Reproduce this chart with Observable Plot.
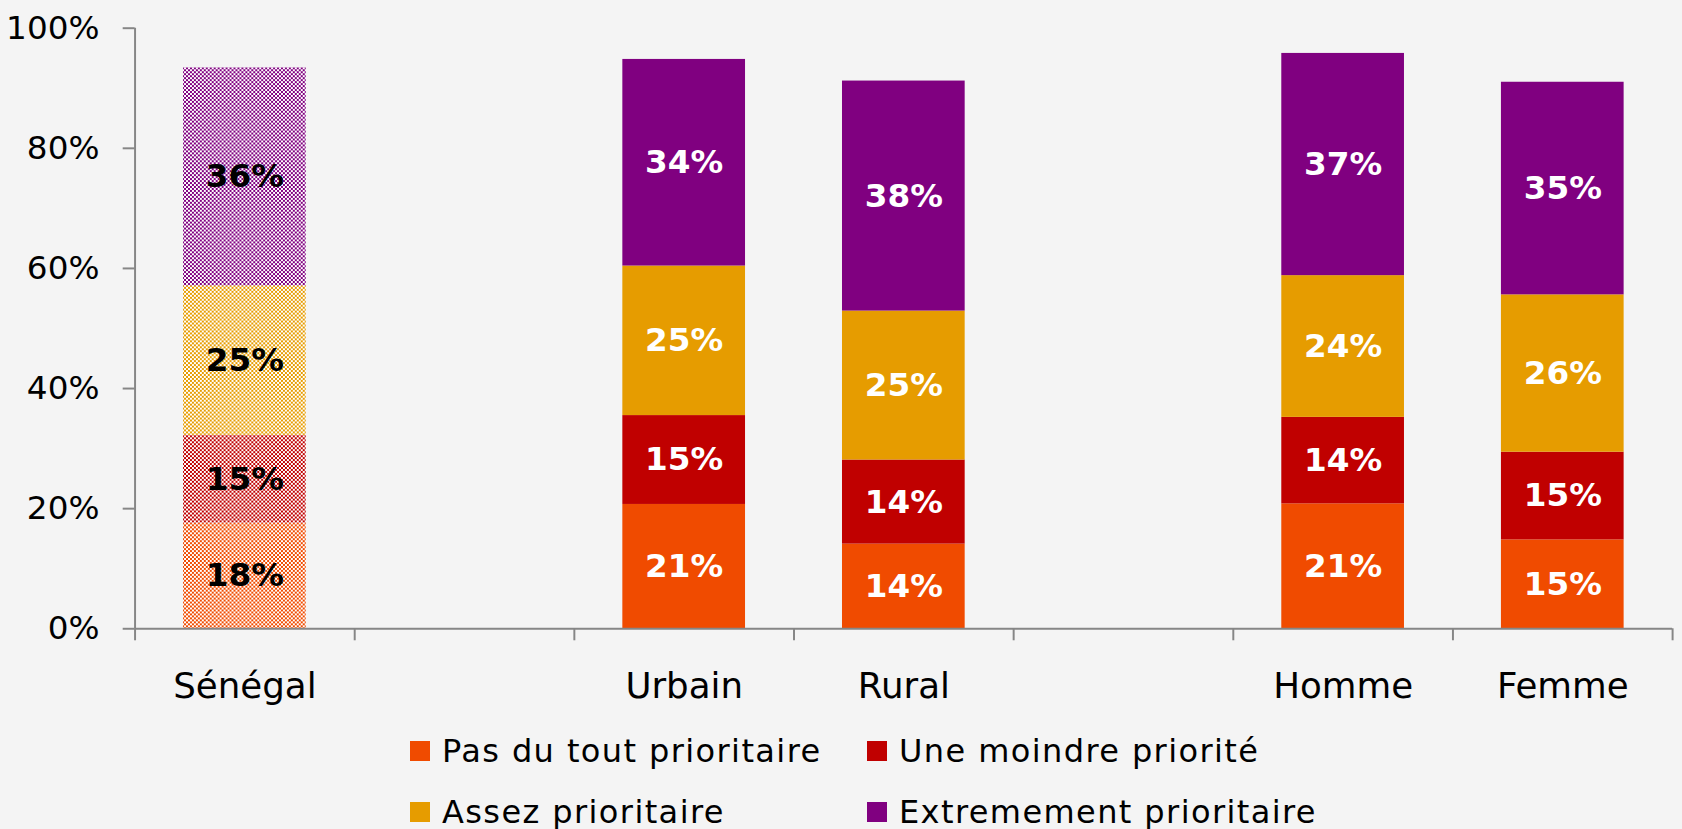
<!DOCTYPE html>
<html><head><meta charset="utf-8">
<script src="https://cdn.jsdelivr.net/npm/d3@7"></script>
<script src="https://cdn.jsdelivr.net/npm/@observablehq/plot@0.6"></script>
<style>
html,body{margin:0;padding:0;background:#f4f4f4;overflow:hidden;width:1682px;height:829px;}
#chart{position:absolute;left:0;top:0;}
.legend{position:absolute;left:410px;top:720px;display:grid;grid-template-columns:457px auto;font-family:"DejaVu Sans";font-size:32px;letter-spacing:1.4px;color:#000;}
.item{display:flex;align-items:center;height:61px;white-space:nowrap;}
.sw{width:20px;height:20px;margin-right:12px;flex:none;}
</style></head><body><div id="chart"></div><div class="legend" id="legend"></div>
<script>
// Categories on the x axis (two empty spacer slots)
const categories = ["Sénégal", "gap1", "Urbain", "Rural", "gap2", "Homme", "Femme"];
const tickLabels = ["Sénégal", "", "Urbain", "Rural", "", "Homme", "Femme"];
const groups = ["Sénégal", "Urbain", "Rural", "Homme", "Femme"];
const hatchedGroup = "Sénégal";

// Series
const levels = ["Pas du tout prioritaire", "Une moindre priorité", "Assez prioritaire", "Extremement prioritaire"];
const colors = ["#F04B00", "#C00000", "#E69C00", "#800080"];
const pasDuTout = [17.6, 20.7, 14.1, 20.8, 14.8];
const moindre   = [14.6, 14.8, 14.0, 14.4, 14.6];
const assez     = [24.9, 24.9, 24.8, 23.6, 26.2];
const extreme   = [36.3, 34.4, 38.3, 37.0, 35.4];
const yTicks = [0, 20, 40, 60, 80, 100];

const series = [pasDuTout, moindre, assez, extreme];
const data = [];
groups.forEach((g, i) => {
  series.forEach((s, j) => data.push({group: g, level: levels[j], li: j, value: s[i]}));
});
const plain = data.filter(d => d.group !== hatchedGroup);
const hatched = data.filter(d => d.group === hatchedGroup);

const W = 1700, H = 720, ML = 136, MR = 10, MT = 28, MB = 85;
const step = (W - ML - MR) / categories.length;
const axisColor = "#868686";
const font = "DejaVu Sans";

const chart = Plot.plot({
  width: W, height: H,
  marginLeft: ML, marginRight: MR, marginTop: MT, marginBottom: MB,
  style: {background: "transparent", fontFamily: font, color: "#000", overflow: "visible"},
  x: {domain: categories, paddingInner: 0.44, paddingOuter: 0.22, axis: null, label: null},
  y: {domain: [0, 100], axis: null, label: null},
  color: {domain: levels, range: colors},
  marks: [
    Plot.barY(plain, {x: "group", y: "value", fill: "level"}),
    Plot.barY(hatched, {x: "group", y: "value", fill: d => `url(#hatch${d.li})`}),
    Plot.text(data, Plot.stackY({
      x: "group", y: "value",
      text: d => Math.round(d.value) + "%",
      fill: d => d.group === hatchedGroup ? "black" : "white",
      fontSize: 33, fontWeight: "bold", fontFamily: font
    })),
    Plot.ruleY([0], {stroke: axisColor, strokeWidth: 2}),
    // y axis line
    Plot.ruleX([categories[0]], {x: d => d, y1: 0, y2: 100, dx: -step / 2, stroke: axisColor, strokeWidth: 2}),
    // boundary tick marks on x axis
    Plot.ruleX(categories, {x: d => d, y1: 0, y2: -2, dx: -step / 2, stroke: axisColor, strokeWidth: 2}),
    Plot.ruleX([categories[categories.length - 1]], {x: d => d, y1: 0, y2: -2, dx: step / 2, stroke: axisColor, strokeWidth: 2}),
    Plot.axisY({ticks: yTicks, tickFormat: d => d + "%", tickSize: 12, tickPadding: 24, fontSize: 33, label: null, stroke: axisColor, strokeWidth: 2, strokeOpacity: 1, fill: "#000"}),
    Plot.axisX({tickSize: 0, tickPadding: 44, fontSize: 36, label: null, tickFormat: d => tickLabels[categories.indexOf(d)], fill: "#000"})
  ]
});

// hatch patterns for the hatched bar
const defs = d3.select(chart).insert("defs", ":first-child");
colors.forEach((c, j) => {
  const p = defs.append("pattern").attr("id", `hatch${j}`).attr("patternUnits", "userSpaceOnUse")
    .attr("width", 4).attr("height", 4);
  p.append("rect").attr("width", 4).attr("height", 4).attr("fill", "#ffffff");
  p.append("rect").attr("width", 2).attr("height", 2).attr("fill", c);
  p.append("rect").attr("x", 2).attr("y", 2).attr("width", 2).attr("height", 2).attr("fill", c);
});
document.getElementById("chart").appendChild(chart);

// legend
const leg = document.getElementById("legend");
levels.forEach((l, j) => {
  const it = document.createElement("div");
  it.className = "item";
  it.innerHTML = `<span class="sw" style="background:${colors[j]}"></span><span>${l}</span>`;
  leg.appendChild(it);
});
</script></body></html>
